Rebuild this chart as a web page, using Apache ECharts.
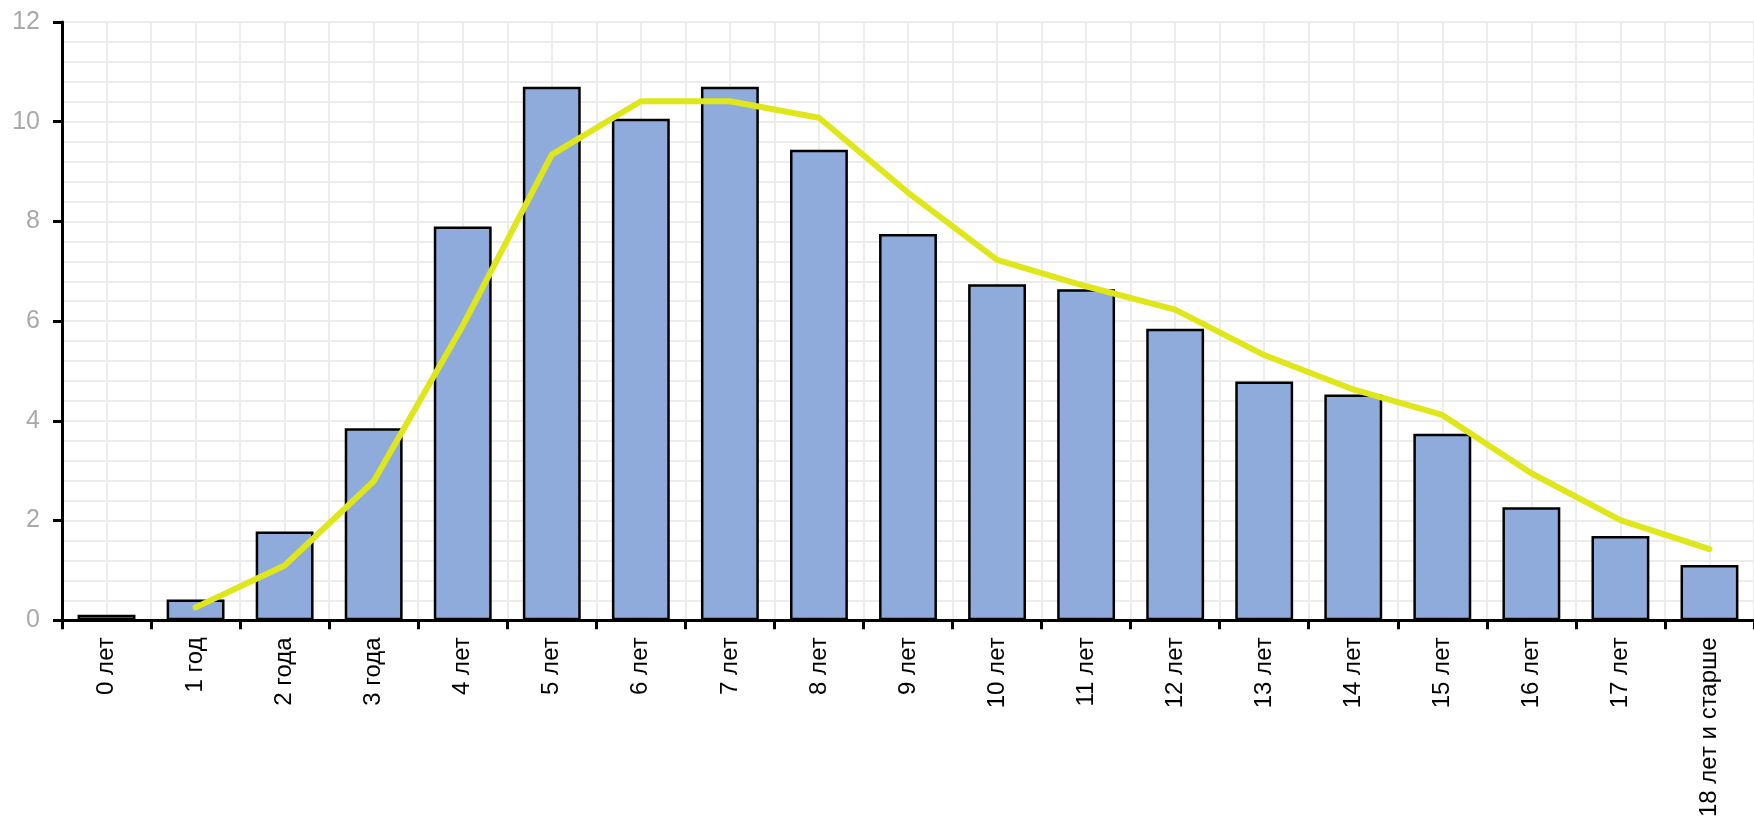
<!DOCTYPE html>
<html>
<head>
<meta charset="utf-8">
<script src="https://cdn.jsdelivr.net/npm/echarts@6/dist/echarts.min.js"></script>
<style>
  html, body { margin: 0; padding: 0; background: #fff; }
  #chart { width: 1754px; height: 820px; }
</style>
</head>
<body>
<div id="chart"></div>
<script>
// возрастные группы
var categories = ['0 лет', '1 год', '2 года', '3 года', '4 лет', '5 лет', '6 лет', '7 лет', '8 лет', '9 лет',
  '10 лет', '11 лет', '12 лет', '13 лет', '14 лет', '15 лет', '16 лет', '17 лет', '18 лет и старше'];
// столбцы
var barValues = [0.11, 0.42, 1.78, 3.85, 7.90, 10.70, 10.06, 10.70, 9.44, 7.75,
  6.74, 6.64, 5.85, 4.79, 4.53, 3.74, 2.27, 1.69, 1.11];
// линия (начинается с 1 года)
var lineValues = [null, 0.26, 1.10, 2.79, 5.91, 9.34, 10.41, 10.41, 10.08, 8.58,
  7.23, 6.70, 6.23, 5.32, 4.63, 4.12, 2.95, 2.01, 1.43];
var yTicks = [0, 2, 4, 6, 8, 10, 12];

var font = "'Liberation Sans Narrow', 'Arial Narrow', 'Liberation Sans', Arial, sans-serif";
var gridColor = '#ececec';

var myChart = echarts.init(document.getElementById('chart'));
myChart.setOption({
  animation: false,
  grid: { left: 62, right: -12, top: 22, bottom: 191 },
  xAxis: [
    {
      type: 'category',
      data: categories,
      boundaryGap: true,
      axisLine: { lineStyle: { color: '#000', width: 3 } },
      axisTick: { show: true, length: 9, lineStyle: { color: '#000', width: 3 } },
      axisLabel: { rotate: 90, margin: 17, color: '#000', fontSize: 24, fontFamily: font, interval: 0 },
      splitLine: { show: false }
    },
    {
      // только для вертикальной сетки через каждые полкатегории
      type: 'value',
      min: 0,
      max: categories.length,
      interval: 0.5,
      axisLine: { show: false },
      axisTick: { show: false },
      axisLabel: { show: false },
      splitLine: { show: true, lineStyle: { color: gridColor, width: 2 } }
    }
  ],
  yAxis: {
    type: 'value',
    min: yTicks[0],
    max: yTicks[yTicks.length - 1],
    interval: 2,
    axisLine: { show: true, lineStyle: { color: '#000', width: 3 } },
    axisTick: { show: true, length: 9, lineStyle: { color: '#000', width: 3 } },
    axisLabel: { margin: 22, color: '#a9a9a9', fontSize: 25, fontFamily: font },
    splitLine: { show: true, lineStyle: { color: gridColor, width: 2 } },
    minorTick: { show: false, splitNumber: 5 },
    minorSplitLine: { show: true, lineStyle: { color: gridColor, width: 2 } }
  },
  series: [
    {
      type: 'bar',
      data: barValues,
      barWidth: '65%',
      itemStyle: { color: '#8fabdc', borderColor: '#000', borderWidth: 2.5 }
    },
    {
      type: 'line',
      data: lineValues,
      symbol: 'none',
      lineStyle: { color: '#dfe619', width: 6, cap: 'round', join: 'round' },
      z: 3
    }
  ]
});
</script>
</body>
</html>
